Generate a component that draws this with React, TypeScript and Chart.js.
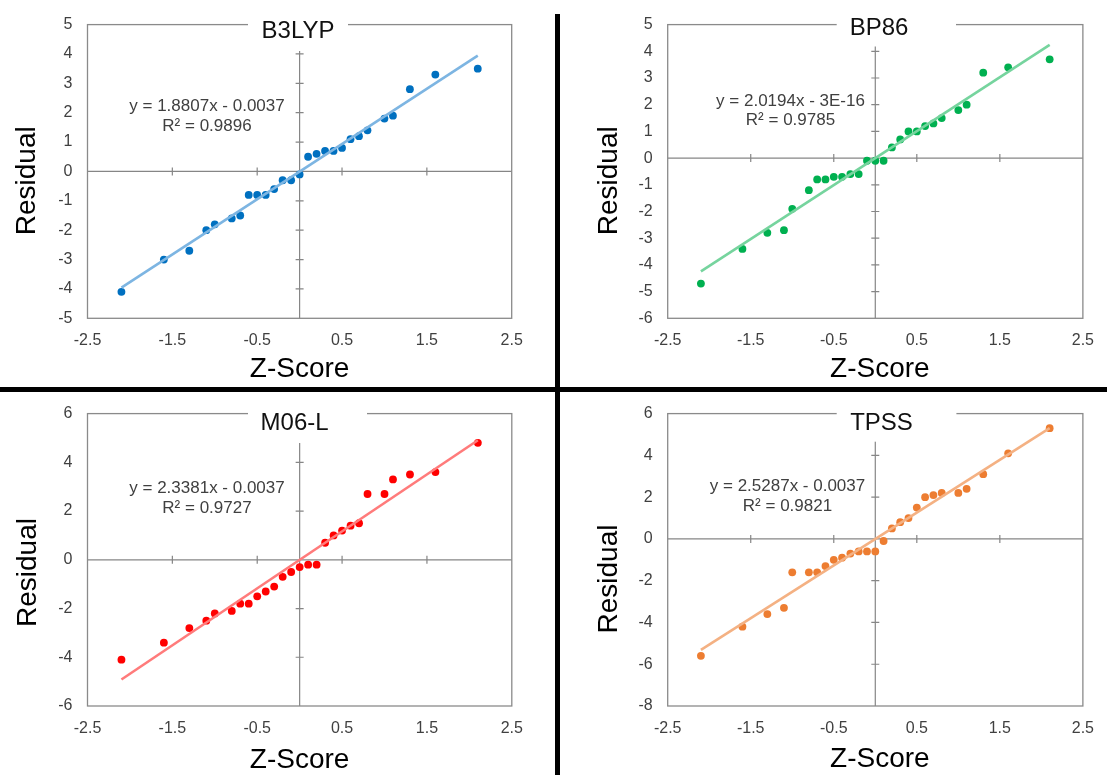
import React, { useEffect, useRef } from 'react';
import { Chart, registerables } from 'chart.js';

Chart.register(...registerables);

// ---------- DATA ----------
const zScores = [-2.1, -1.6, -1.3, -1.1, -1.0, -0.8, -0.7, -0.6, -0.5, -0.4, -0.3, -0.2, -0.1, 0, 0.1, 0.2, 0.3, 0.4, 0.5, 0.6, 0.7, 0.8, 1.0, 1.1, 1.3, 1.6, 2.1];

const b3lypResiduals = [-4.1, -3.0, -2.7, -2.0, -1.8, -1.6, -1.5, -0.8, -0.8, -0.8, -0.6, -0.3, -0.3, -0.1, 0.5, 0.6, 0.7, 0.7, 0.8, 1.1, 1.2, 1.4, 1.8, 1.9, 2.8, 3.3, 3.5];
const bp86Residuals = [-4.7, -3.4, -2.8, -2.7, -1.9, -1.2, -0.8, -0.8, -0.7, -0.7, -0.6, -0.6, -0.1, -0.1, -0.1, 0.4, 0.7, 1.0, 1.0, 1.2, 1.3, 1.5, 1.8, 2.0, 3.2, 3.4, 3.7];
const m06lResiduals = [-4.1, -3.4, -2.8, -2.5, -2.2, -2.1, -1.8, -1.8, -1.5, -1.3, -1.1, -0.7, -0.5, -0.3, -0.2, -0.2, 0.7, 1.0, 1.2, 1.4, 1.5, 2.7, 2.7, 3.3, 3.5, 3.6, 4.8];
const tpssResiduals = [-5.6, -4.2, -3.6, -3.3, -1.6, -1.6, -1.6, -1.3, -1.0, -0.9, -0.7, -0.6, -0.6, -0.6, -0.1, 0.5, 0.8, 1.0, 1.5, 2.0, 2.1, 2.2, 2.2, 2.4, 3.1, 4.1, 5.3];

const methodNames = ['B3LYP', 'BP86', 'M06-L', 'TPSS'];
const trendSlopes = [1.8807, 2.0194, 2.3381, 2.5287];
const trendIntercepts = [-0.0037, -3e-16, -0.0037, -0.0037];
const equationLabels = ['y = 1.8807x - 0.0037', 'y = 2.0194x - 3E-16', 'y = 2.3381x - 0.0037', 'y = 2.5287x - 0.0037'];
const rSquaredLabels = ['R\u00b2 = 0.9896', 'R\u00b2 = 0.9785', 'R\u00b2 = 0.9727', 'R\u00b2 = 0.9821'];

const xTickValues = [-2.5, -1.5, -0.5, 0.5, 1.5, 2.5];
const b3lypYTicks = [-5, -4, -3, -2, -1, 0, 1, 2, 3, 4, 5];
const bp86YTicks = [-6, -5, -4, -3, -2, -1, 0, 1, 2, 3, 4, 5];
const m06lYTicks = [-6, -4, -2, 0, 2, 4, 6];
const tpssYTicks = [-8, -6, -4, -2, 0, 2, 4, 6];

const xAxisTitle = 'Z-Score';
const yAxisTitle = 'Residual';

// ---------- LAYOUT / STYLE ----------
const FONT = '"Liberation Sans", Arial, Helvetica, sans-serif';

type PanelCfg = {
  idx: number;
  residuals: number[];
  yTicks: number[];
  marker: string;
  trend: string;
  left: number; top: number; w: number; h: number;
  areaTop: number; yAxisW: number; padRight: number; xAxisH: number;
  titleX: number; titleBase: number; boxL: number; boxR: number; boxT: number; boxB: number;
  eqX: number; eqY1: number; eqY2: number;
  resX: number; resY: number; zX: number; zY: number;
};

const panels: PanelCfg[] = [
  {
    idx: 0, residuals: b3lypResiduals, yTicks: b3lypYTicks, marker: '#0070C0', trend: '#7DB5E2',
    left: 0, top: 0, w: 557, h: 389,
    areaTop: 24.3, yAxisW: 87.5, padRight: 45.3, xAxisH: 70.7,
    titleX: 298, titleBase: 38.3, boxL: 248, boxR: 348, boxT: 12, boxB: 51,
    eqX: 207, eqY1: 106.5, eqY2: 126,
    resX: 26.8, resY: 180.8, zX: 299.6, zY: 369.5,
  },
  {
    idx: 1, residuals: bp86Residuals, yTicks: bp86YTicks, marker: '#00B050', trend: '#76D49E',
    left: 557, top: 0, w: 550, h: 389,
    areaTop: 24.3, yAxisW: 110.7, padRight: 15, xAxisH: 70.7,
    titleX: 322, titleBase: 34.5, boxL: 279.7, boxR: 399, boxT: 12, boxB: 46.5,
    eqX: 233.5, eqY1: 101, eqY2: 120,
    resX: 52.6, resY: 180.8, zX: 322.9, zY: 369,
  },
  {
    idx: 2, residuals: m06lResiduals, yTicks: m06lYTicks, marker: '#FF0000', trend: '#FF7B7B',
    left: 0, top: 389, w: 557, h: 386,
    areaTop: 22.7, yAxisW: 87.5, padRight: 45.2, xAxisH: 69,
    titleX: 294.6, titleBase: 41, boxL: 248, boxR: 367, boxT: 10, boxB: 54,
    eqX: 207, eqY1: 99.3, eqY2: 119.3,
    resX: 28.6, resY: 183.5, zX: 299.6, zY: 371,
  },
  {
    idx: 3, residuals: tpssResiduals, yTicks: tpssYTicks, marker: '#ED7D31', trend: '#F4B183',
    left: 557, top: 389, w: 550, h: 386,
    areaTop: 22.7, yAxisW: 110.7, padRight: 15, xAxisH: 69,
    titleX: 324.5, titleBase: 40.5, boxL: 279.7, boxR: 399.4, boxT: 10, boxB: 52.7,
    eqX: 230.5, eqY1: 97.7, eqY2: 117.7,
    resX: 52.6, resY: 190, zX: 322.9, zY: 370,
  },
];

function makeDecorPlugin(p: PanelCfg) {
  return {
    id: 'panelDecor' + p.idx,
    beforeDatasetsDraw(chart: any) {
      const { ctx, chartArea: a, scales } = chart;
      const x = scales.x;
      const y = scales.y;
      const x0 = x.getPixelForValue(0);
      const y0 = y.getPixelForValue(0);
      ctx.save();
      ctx.strokeStyle = '#868686';
      ctx.lineWidth = 1.2;
      ctx.beginPath();
      ctx.moveTo(a.left, y0);
      ctx.lineTo(a.right, y0);
      ctx.moveTo(x0, a.top);
      ctx.lineTo(x0, a.bottom);
      x.ticks.forEach((t: any) => {
        if (t.value > x.min && t.value < x.max) {
          const px = x.getPixelForValue(t.value);
          ctx.moveTo(px, y0 - 4);
          ctx.lineTo(px, y0 + 4);
        }
      });
      y.ticks.forEach((t: any) => {
        if (t.value > y.min && t.value < y.max) {
          const py = y.getPixelForValue(t.value);
          ctx.moveTo(x0 - 4, py);
          ctx.lineTo(x0 + 4, py);
        }
      });
      ctx.stroke();
      ctx.strokeStyle = '#8a8a8a';
      ctx.lineWidth = 1.3;
      ctx.strokeRect(a.left, a.top, a.right - a.left, a.bottom - a.top);
      ctx.restore();
    },
    afterDraw(chart: any) {
      const { ctx } = chart;
      ctx.save();
      // title box covering the top border
      ctx.fillStyle = '#ffffff';
      ctx.fillRect(p.boxL, p.boxT, p.boxR - p.boxL, p.boxB - p.boxT);
      ctx.fillStyle = '#111111';
      ctx.textAlign = 'center';
      ctx.textBaseline = 'alphabetic';
      ctx.font = `24px ${FONT}`;
      ctx.fillText(methodNames[p.idx], p.titleX, p.titleBase);
      // equation
      ctx.fillStyle = '#404040';
      ctx.textBaseline = 'middle';
      ctx.font = `17px ${FONT}`;
      ctx.fillText(equationLabels[p.idx], p.eqX, p.eqY1);
      ctx.fillText(rSquaredLabels[p.idx], p.eqX, p.eqY2);
      // axis titles
      ctx.fillStyle = '#000000';
      ctx.font = `28px ${FONT}`;
      ctx.fillText(xAxisTitle, p.zX, p.zY);
      ctx.translate(p.resX, p.resY);
      ctx.rotate(-Math.PI / 2);
      ctx.fillText(yAxisTitle, 0, 0);
      ctx.restore();
    },
  };
}

function Panel({ cfg }: { cfg: PanelCfg }) {
  const ref = useRef<HTMLCanvasElement>(null);
  useEffect(() => {
    const canvas = ref.current;
    if (!canvas) return;
    const zMin = Math.min(...zScores);
    const zMax = Math.max(...zScores);
    const slope = trendSlopes[cfg.idx];
    const icpt = trendIntercepts[cfg.idx];
    const tickFont = { family: FONT, size: 16 };
    const chart = new Chart(canvas, {
      type: 'scatter',
      data: {
        datasets: [
          {
            label: 'Linear (' + methodNames[cfg.idx] + ')',
            data: [
              { x: zMin, y: slope * zMin + icpt },
              { x: zMax, y: slope * zMax + icpt },
            ],
            showLine: true,
            borderColor: cfg.trend,
            borderWidth: 2.6,
            pointRadius: 0,
            fill: false,
          } as any,
          {
            label: methodNames[cfg.idx],
            data: zScores.map((z, i) => ({ x: z, y: cfg.residuals[i] })),
            backgroundColor: cfg.marker,
            borderWidth: 0,
            pointRadius: 3.9,
          },
        ],
      },
      options: {
        animation: false,
        responsive: false,
        devicePixelRatio: 1,
        layout: { padding: { left: 0, top: cfg.areaTop, right: cfg.padRight, bottom: 0 } },
        plugins: {
          legend: { display: false },
          tooltip: { enabled: false },
          title: { display: false },
        },
        scales: {
          x: {
            type: 'linear',
            position: 'bottom',
            min: xTickValues[0],
            max: xTickValues[xTickValues.length - 1],
            afterBuildTicks: (s: any) => { s.ticks = xTickValues.map((v) => ({ value: v })); },
            afterFit: (s: any) => { s.height = cfg.xAxisH; },
            grid: { display: false, drawTicks: false },
            border: { display: false },
            ticks: { padding: 13, color: '#404040', font: tickFont, autoSkip: false, maxRotation: 0, callback: (v: any) => String(v) },
          },
          y: {
            type: 'linear',
            position: 'left',
            min: cfg.yTicks[0],
            max: cfg.yTicks[cfg.yTicks.length - 1],
            afterBuildTicks: (s: any) => { s.ticks = cfg.yTicks.map((v) => ({ value: v })); },
            afterFit: (s: any) => { s.width = cfg.yAxisW; },
            grid: { display: false, drawTicks: false },
            border: { display: false },
            ticks: { padding: 15, color: '#404040', font: tickFont, autoSkip: false, callback: (v: any) => String(v) },
          },
        },
      } as any,
      plugins: [makeDecorPlugin(cfg)],
    });
    return () => chart.destroy();
  }, [cfg]);
  return (
    <canvas
      ref={ref}
      width={cfg.w}
      height={cfg.h}
      style={{ position: 'absolute', left: cfg.left, top: cfg.top, width: cfg.w, height: cfg.h }}
    />
  );
}

export default function App() {
  return (
    <div style={{ position: 'absolute', left: 0, top: 0, width: 1107, height: 775, background: '#ffffff', overflow: 'hidden' }}>
      {panels.map((p) => (
        <Panel key={p.idx} cfg={p} />
      ))}
      <div style={{ position: 'absolute', left: 555, top: 14, width: 5, height: 761, background: '#000000' }} />
      <div style={{ position: 'absolute', left: 0, top: 387, width: 1107, height: 5, background: '#000000' }} />
    </div>
  );
}
